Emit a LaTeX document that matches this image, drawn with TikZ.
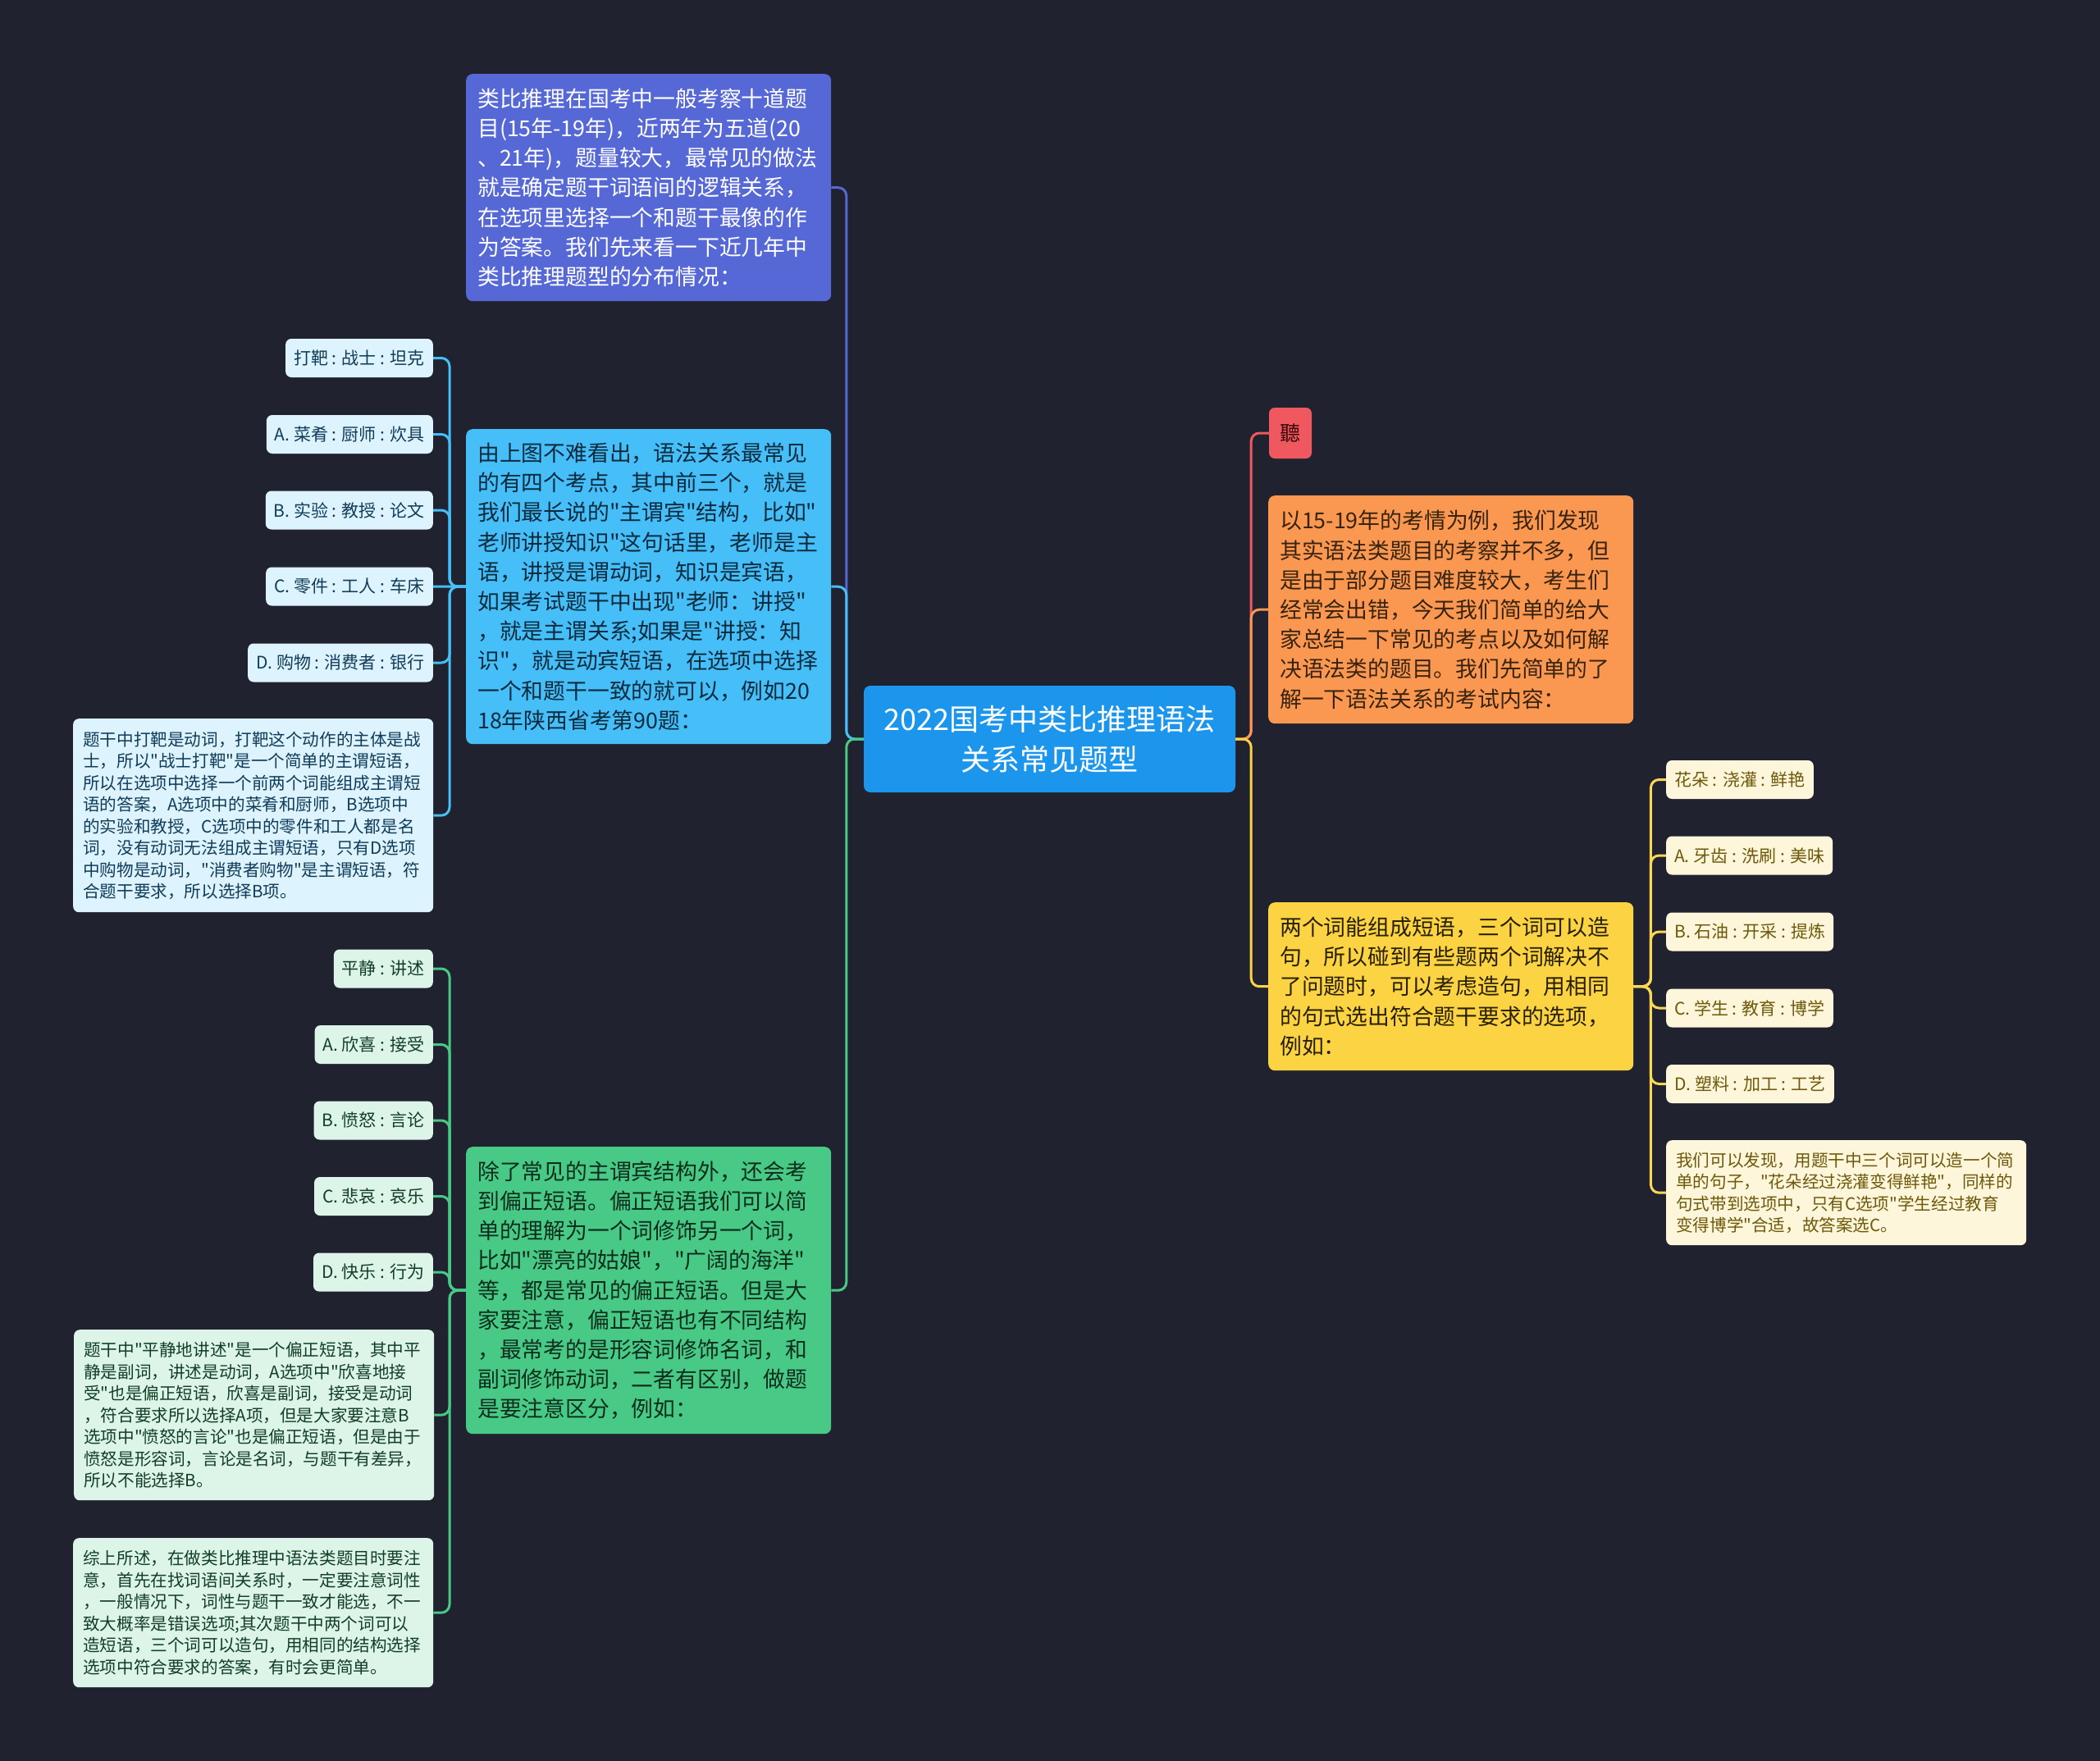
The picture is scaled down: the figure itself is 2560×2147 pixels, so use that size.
\documentclass[tikz,border=0pt]{standalone}
\usepackage{fontspec}
\setmainfont{Noto Sans CJK SC}[Ligatures=TeXOff]
\definecolor{bg}{RGB}{32,35,47}
\definecolor{cBlue}{RGB}{28,150,236}
\definecolor{cViolet}{RGB}{86,104,214}
\definecolor{cSky}{RGB}{70,190,248}
\definecolor{cGreen}{RGB}{72,201,134}
\definecolor{cOrange}{RGB}{250,152,82}
\definecolor{cYellow}{RGB}{252,211,66}
\definecolor{cRed}{RGB}{238,88,94}
\definecolor{skyLight}{RGB}{221,243,253}
\definecolor{skyText}{RGB}{16,60,90}
\definecolor{greenLight}{RGB}{221,245,232}
\definecolor{greenText}{RGB}{18,62,38}
\definecolor{yelLight}{RGB}{253,246,219}
\definecolor{yelText}{RGB}{110,88,10}
\definecolor{skyDark}{RGB}{14,42,61}
\definecolor{greenDark}{RGB}{15,45,29}
\definecolor{orangeDark}{RGB}{55,35,15}
\definecolor{yelDark}{RGB}{40,32,5}
\definecolor{redDark}{RGB}{60,12,12}
\tikzset{
  bigbox/.style={rounded corners=8pt, anchor=north west, inner xsep=14pt, inner ysep=8pt,
    align=left, text width=417pt, font=\fontsize{26.8}{36.2}\selectfont},
  optbox/.style={rounded corners=7pt, inner xsep=10pt, inner ysep=0pt, minimum height=47pt,
    font=\fontsize{21}{26}\selectfont},
  parabox/.style={rounded corners=7pt, anchor=north west, inner xsep=12pt, inner ysep=6pt,
    align=left, text width=415pt, font=\fontsize{20.6}{26.5}\selectfont},
  conn/.style={line width=3pt, rounded corners=10pt},
}
\begin{document}
\begin{tikzpicture}[x=1pt,y=-1pt]
\useasboundingbox (0,0) rectangle (2560,2147);
\fill[bg] (0,0) rectangle (2560,2147);

% central
\node[fill=cBlue, text=white, rounded corners=8pt, minimum width=453pt, minimum height=130pt,
  text width=413pt, inner xsep=20pt, align=center, font=\fontsize{36}{49}\selectfont]
  (c) at (1279.5,901) {2022国考中类比推理语法\\关系常见题型};

% left main boxes
\node[bigbox, fill=cViolet, text=white, minimum height=277pt] (t1) at (568,90) {%
类比推理在国考中一般考察十道题\\
目(15年-19年)，近两年为五道(20\\
、21年)，题量较大，最常见的做法\\
就是确定题干词语间的逻辑关系，\\
在选项里选择一个和题干最像的作\\
为答案。我们先来看一下近几年中\\
类比推理题型的分布情况：};

\node[bigbox, fill=cSky, text=skyDark, minimum height=384pt] (t2) at (568,523) {%
由上图不难看出，语法关系最常见\\
的有四个考点，其中前三个，就是\\
我们最长说的"主谓宾"结构，比如"\\
老师讲授知识"这句话里，老师是主\\
语，讲授是谓动词，知识是宾语，\\
如果考试题干中出现"老师：讲授"\\
，就是主谓关系;如果是"讲授：知\\
识"，就是动宾短语，在选项中选择\\
一个和题干一致的就可以，例如20\\
18年陕西省考第90题：};

\node[bigbox, fill=cGreen, text=greenDark, minimum height=350pt] (t3) at (568,1398) {%
除了常见的主谓宾结构外，还会考\\
到偏正短语。偏正短语我们可以简\\
单的理解为一个词修饰另一个词，\\
比如"漂亮的姑娘"，"广阔的海洋"\\
等，都是常见的偏正短语。但是大\\
家要注意，偏正短语也有不同结构\\
，最常考的是形容词修饰名词，和\\
副词修饰动词，二者有区别，做题\\
是要注意区分，例如：};

% left children of t2
\node[optbox, fill=skyLight, text=skyText, anchor=east] (a0) at (528,436.5) {打靶 : 战士 : 坦克};
\node[optbox, fill=skyLight, text=skyText, anchor=east] (a1) at (528,529.5) {A. 菜肴 : 厨师 : 炊具};
\node[optbox, fill=skyLight, text=skyText, anchor=east] (a2) at (528,622) {B. 实验 : 教授 : 论文};
\node[optbox, fill=skyLight, text=skyText, anchor=east] (a3) at (528,715) {C. 零件 : 工人 : 车床};
\node[optbox, fill=skyLight, text=skyText, anchor=east] (a4) at (528,808) {D. 购物 : 消费者 : 银行};
\node[parabox, fill=skyLight, text=skyText, minimum height=236pt] (a5) at (89,876) {%
题干中打靶是动词，打靶这个动作的主体是战\\
士，所以"战士打靶"是一个简单的主谓短语，\\
所以在选项中选择一个前两个词能组成主谓短\\
语的答案，A选项中的菜肴和厨师，B选项中\\
的实验和教授，C选项中的零件和工人都是名\\
词，没有动词无法组成主谓短语，只有D选项\\
中购物是动词，"消费者购物"是主谓短语，符\\
合题干要求，所以选择B项。};

% left children of t3
\node[optbox, fill=greenLight, text=greenText, anchor=east] (g0) at (528,1181) {平静 : 讲述};
\node[optbox, fill=greenLight, text=greenText, anchor=east] (g1) at (528,1273.5) {A. 欣喜 : 接受};
\node[optbox, fill=greenLight, text=greenText, anchor=east] (g2) at (528,1366) {B. 愤怒 : 言论};
\node[optbox, fill=greenLight, text=greenText, anchor=east] (g3) at (528,1458.5) {C. 悲哀 : 哀乐};
\node[optbox, fill=greenLight, text=greenText, anchor=east] (g4) at (528,1551) {D. 快乐 : 行为};
\node[parabox, fill=greenLight, text=greenText, minimum height=208pt] (g5) at (90,1621) {%
题干中"平静地讲述"是一个偏正短语，其中平\\
静是副词，讲述是动词，A选项中"欣喜地接\\
受"也是偏正短语，欣喜是副词，接受是动词\\
，符合要求所以选择A项，但是大家要注意B\\
选项中"愤怒的言论"也是偏正短语，但是由于\\
愤怒是形容词，言论是名词，与题干有差异，\\
所以不能选择B。};
\node[parabox, fill=greenLight, text=greenText, minimum height=182pt] (g6) at (89,1875) {%
综上所述，在做类比推理中语法类题目时要注\\
意，首先在找词语间关系时，一定要注意词性\\
，一般情况下，词性与题干一致才能选，不一\\
致大概率是错误选项;其次题干中两个词可以\\
造短语，三个词可以造句，用相同的结构选择\\
选项中符合要求的答案，有时会更简单。};

% right main
\node[fill=cRed, text=redDark, rounded corners=7pt, minimum width=52pt, minimum height=62pt,
  inner sep=0pt, font=\fontsize{25}{30}\selectfont] (r0) at (1573,528) {聽};
\node[bigbox, fill=cOrange, text=orangeDark, minimum height=278pt] (r1) at (1546,604) {%
以15-19年的考情为例，我们发现\\
其实语法类题目的考察并不多，但\\
是由于部分题目难度较大，考生们\\
经常会出错，今天我们简单的给大\\
家总结一下常见的考点以及如何解\\
决语法类的题目。我们先简单的了\\
解一下语法关系的考试内容：};
\node[bigbox, fill=cYellow, text=yelDark, minimum height=205pt] (r2) at (1546,1100) {%
两个词能组成短语，三个词可以造\\
句，所以碰到有些题两个词解决不\\
了问题时，可以考虑造句，用相同\\
的句式选出符合题干要求的选项，\\
例如：};

% right children of r2
\node[optbox, fill=yelLight, text=yelText, anchor=west] (y0) at (2031,950.5) {花朵 : 浇灌 : 鲜艳};
\node[optbox, fill=yelLight, text=yelText, anchor=west] (y1) at (2031,1043) {A. 牙齿 : 洗刷 : 美味};
\node[optbox, fill=yelLight, text=yelText, anchor=west] (y2) at (2031,1136) {B. 石油 : 开采 : 提炼};
\node[optbox, fill=yelLight, text=yelText, anchor=west] (y3) at (2031,1229) {C. 学生 : 教育 : 博学};
\node[optbox, fill=yelLight, text=yelText, anchor=west] (y4) at (2031,1321.5) {D. 塑料 : 加工 : 工艺};
\node[parabox, fill=yelLight, text=yelText, minimum height=128pt] (y5) at (2031,1390) {%
我们可以发现，用题干中三个词可以造一个简\\
单的句子，"花朵经过浇灌变得鲜艳"，同样的\\
句式带到选项中，只有C选项"学生经过教育\\
变得博学"合适，故答案选C。};

% connectors: left main
\draw[conn, cViolet] (c.west) -- ++(-21,0) |- (t1.east);
\draw[conn, cSky] (c.west) -- ++(-21,0) |- (t2.east);
\draw[conn, cGreen] (c.west) -- ++(-21,0) |- (t3.east);
% right main
\draw[conn, cRed] (c.east) -- ++(19,0) |- (r0.west);
\draw[conn, cOrange] (c.east) -- ++(19,0) |- (r1.west);
\draw[conn, cYellow] (c.east) -- ++(19,0) |- (r2.west);
% t2 children
\foreach \n in {a0,a1,a2,a4,a5} \draw[conn, cSky] (t2.west) -- ++(-20,0) |- (\n.east);
\draw[conn, cSky] (t2.west) -- (a3.east);
% t3 children
\foreach \n in {g0,g1,g2,g3,g4,g5,g6} \draw[conn, cGreen] (t3.west) -- ++(-20,0) |- (\n.east);
% r2 children
\foreach \n in {y0,y1,y2,y3,y4,y5} \draw[conn, cYellow!90!white] (r2.east) -- ++(21,0) |- (\n.west);
\end{tikzpicture}
\end{document}
